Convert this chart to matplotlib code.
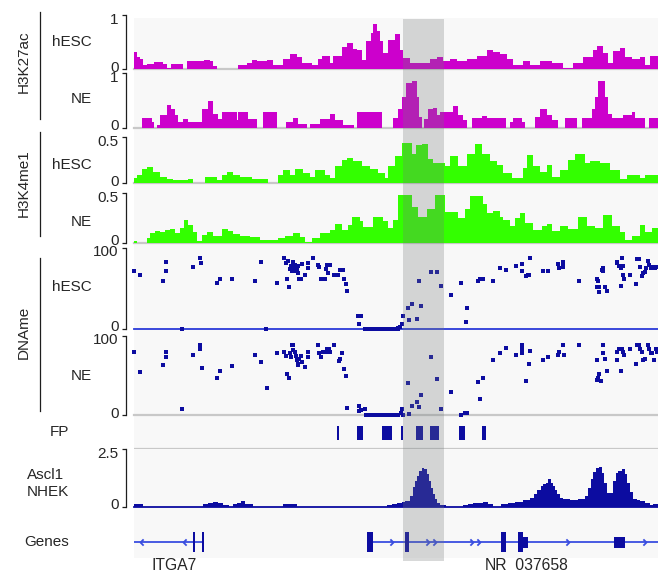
import matplotlib
matplotlib.use("Agg")
import matplotlib.pyplot as plt
from matplotlib.lines import Line2D
from matplotlib.patches import Rectangle
from matplotlib.path import Path

plt.rcParams['font.family'] = ['Liberation Sans', 'DejaVu Sans']
plt.rcParams['path.simplify'] = False

W, H = 658, 572
REGION_END = 524          # browser window, in units of 100 bp

# ---------------- bedGraph-style signal tracks (interval start, value) ----------------
k27_hesc_start = [0, 3, 6, 9, 13, 20, 29, 33, 37, 49, 53, 70, 76, 79, 83, 104, 113, 118, 123, 133,
                  139, 149, 156, 163, 168, 178, 184, 188,
                  196, 199, 208, 213, 219, 223, 228, 232, 237, 239, 243, 246, 249, 254, 261, 266, 269, 276, 296, 303,
                  309, 316, 323, 333, 343, 353, 359, 366, 373, 379, 389, 396, 406, 418, 429, 439, 449, 459, 463, 469,
                  474, 479, 486, 491, 498, 506, 511, 516]
k27_hesc_value = [0.31, 0.22, 0.19, 0.08, 0.09, 0.13, 0.09, 0.02, 0.10, 0, 0.15, 0.17, 0.15, 0.06, 0, 0.08, 0.11, 0.17, 0.14, 0.17,
                  0.08, 0.19, 0.28, 0.22, 0.12, 0.08, 0.19, 0.25,
                  0.11, 0.25, 0.40, 0.49, 0.37, 0.36, 0.17, 0.51, 0.67, 0.84, 0.70, 0.51, 0.30, 0.53, 0.65, 0.36, 0.20, 0.12, 0.19, 0.23,
                  0.14, 0.19, 0.14, 0.19, 0.25, 0.36, 0.31, 0.27, 0.19, 0.08, 0.14, 0.08, 0.14, 0.11, 0.02, 0.11, 0.23, 0.36, 0.42, 0.30,
                  0.11, 0.33, 0.39, 0.23, 0.19, 0.23, 0.08, 0.25]

k27_ne_start = [0, 8, 18, 20, 23, 26, 33, 37, 41, 44, 49, 54, 68, 74, 79, 84, 88, 96, 103, 104,
                114, 123, 129, 143, 152, 159, 164, 173, 176, 186,
                196, 201, 209, 220, 223, 248, 259, 264, 268, 272, 278, 283, 285, 288, 290, 294, 299, 303, 306, 319,
                324, 329, 333, 338, 348, 353, 372, 376, 379, 388, 391, 401, 406, 413, 418, 424, 431, 443, 448, 458,
                461, 464, 471, 474, 478, 489, 498, 501, 511, 515]
k27_ne_value = [0, 0.19, 0.11, 0, 0.05, 0.23, 0.41, 0.35, 0.23, 0.11, 0.17, 0.11, 0.35, 0.50, 0.26, 0.17, 0.29, 0.30, 0.14, 0.29,
                0.17, 0, 0.29, 0, 0.11, 0.19, 0.07, 0, 0.08, 0.17,
                0.26, 0.14, 0.05, 0, 0.29, 0, 0.19, 0.35, 0.57, 0.82, 0.85, 0.57, 0.20, 0, 0.17, 0.35, 0.37, 0.23, 0.29, 0.40,
                0.23, 0.14, 0, 0.19, 0.21, 0.19, 0, 0.11, 0.19, 0.11, 0, 0.20, 0.35, 0.23, 0.14, 0, 0.19, 0, 0.19, 0.35,
                0.57, 0.85, 0.57, 0.26, 0.19, 0.23, 0.29, 0.19, 0, 0.19]

k4_hesc_start = [0, 3, 8, 13, 19, 26, 33, 39, 54, 59, 71, 83, 88, 93, 99, 106, 118, 126, 134, 144,
                 149, 156, 161, 169, 176, 181, 191,
                 196, 201, 208, 213, 219, 228, 236, 244, 251, 254, 261, 268, 278, 282, 288, 294, 299, 311, 316, 324,
                 333, 341, 348, 356, 363, 369, 378, 389, 393, 399, 406, 413, 418, 426, 434, 441, 451, 456, 466, 476,
                 486, 493, 506, 511]
k4_hesc_value = [0.05, 0.09, 0.15, 0.17, 0.12, 0.07, 0.04, 0.03, 0.04, 0, 0.07, 0.03, 0.09, 0.12, 0.09, 0.07, 0.04, 0.04, 0, 0.09,
                 0.14, 0.09, 0.15, 0.11, 0.07, 0.14, 0.09,
                 0.05, 0.18, 0.25, 0.27, 0.24, 0.19, 0.15, 0.11, 0.05, 0.18, 0.29, 0.44, 0.31, 0.41, 0.42, 0.26, 0.22, 0.18, 0.29, 0.18,
                 0.32, 0.42, 0.31, 0.24, 0.20, 0.11, 0.05, 0.16, 0.30, 0.18, 0.12, 0.20, 0.07, 0.14, 0.25, 0.32, 0.22, 0.24, 0.22, 0.14,
                 0.04, 0.09, 0.05, 0.09]

k4_ne_start = [0, 3, 13, 16, 21, 26, 31, 36, 41, 46, 50, 54, 59, 63, 68, 73, 79, 88, 94, 99,
               106, 116, 126, 138, 144, 151, 159, 166, 171, 178, 186,
               196, 201, 208, 214, 218, 226, 229, 239, 249, 254, 259, 264, 278, 284, 293, 301, 311, 324, 331, 336,
               349, 353, 359, 366, 369, 376, 381, 386, 391, 399, 408, 413, 418, 426, 434, 444, 453, 461, 469, 478,
               486, 491, 498, 506, 511, 518]
k4_ne_value = [0.02, 0, 0.045, 0.10, 0.12, 0.11, 0.13, 0.14, 0.10, 0.15, 0.23, 0.18, 0.11, 0.02, 0.08, 0.11, 0.07, 0.14, 0.12, 0.09,
               0.07, 0.06, 0.03, 0.03, 0.045, 0.07, 0.10, 0.06, 0.01, 0.045, 0.10,
               0.13, 0.19, 0.13, 0.18, 0.26, 0.22, 0.16, 0.26, 0.22, 0.15, 0.23, 0.48, 0.36, 0.26, 0.34, 0.48, 0.31, 0.25, 0.34, 0.47,
               0.39, 0.30, 0.32, 0.26, 0.23, 0.17, 0.25, 0.30, 0.20, 0.13, 0.17, 0.19, 0.12, 0.17, 0.14, 0.26, 0.17, 0.15, 0.28, 0.17,
               0.11, 0.03, 0.07, 0.18, 0.11, 0.15]

ascl1_start = [0, 9, 69, 74, 79, 84, 89, 95, 99, 103, 107, 111, 119, 149, 163,
               253, 258, 263, 268, 271, 276, 279, 281, 283, 285, 288, 290, 293, 295, 297, 299, 301, 303, 306, 312,
               329, 334, 339, 344, 349, 354, 359, 367, 374, 381, 389, 396, 400, 403, 407, 409, 412, 414, 417, 419,
               421, 423, 426, 429, 436, 444, 451, 454, 457, 459, 462, 465, 468, 470, 473, 479, 482, 484, 488, 491,
               493, 496, 499, 503, 506, 511, 516, 519]
ascl1_value = [0.10, 0, 0.10, 0.17, 0.22, 0.17, 0.09, 0, 0.12, 0.17, 0.23, 0.13, 0, 0.12, 0,
               0.07, 0.10, 0.15, 0.20, 0.25, 0.47, 0.87, 1.12, 1.34, 1.56, 1.70, 1.66, 1.41, 1.12, 0.83, 0.54, 0.32, 0.15, 0.06, 0,
               0.09, 0.12, 0.15, 0.17, 0.22, 0.12, 0, 0.10, 0.15, 0.20, 0.29, 0.39, 0.54, 0.73, 0.90, 0.97, 1.05, 1.19, 1.05, 0.90,
               0.73, 0.54, 0.39, 0.32, 0.29, 0.32, 0.47, 0.83, 1.19, 1.51, 1.70, 1.74, 1.48, 1.05, 0.58, 1.12, 1.45, 1.56, 1.63, 1.41,
               1.05, 0.64, 0.35, 0.29, 0.23, 0.15, 0.06, 0.10]

# ---------------- CpG methylation (position, % methylated) ----------------
dname_hesc_pos = [0.3, 6, 28.7, 31.7, 31.7, 47.7, 58.7, 66, 66.7, 83.3, 86, 97.7, 121, 127, 132, 142.7, 150.3,
                  151.7, 154.3, 156, 157, 158.3, 159.3, 160.3, 161, 161.7, 162.7, 163.7, 164.3, 165.3, 166.7, 167.7,
                  155.3, 153.3, 171, 174.3, 174.3, 178.7, 184.3, 185.3, 186.7, 188.7, 191, 192, 192.7, 193.7, 195.3,
                  196, 200, 204.3, 206, 208.7, 210, 212, 213.3, 224.3, 226.7, 225.3,
                  231, 232.5, 234, 236, 238, 240, 242, 244, 246, 248, 250, 252, 254, 256, 258, 260, 262, 263.5,
                  264.3, 266, 267.7, 269.3, 273.7, 275.3, 278, 282.7, 285.3, 287, 296.7, 302.7, 307, 317, 327,
                  331.7, 332.7, 344.3, 346, 348.7, 358.7, 366, 371.7, 382, 387.7, 388.3, 391.7, 393.7, 395.3, 396.3,
                  409.3, 413.7, 423.7, 425.3, 428.7, 429.3, 429.3, 445.3, 462.7, 463.7, 462.7, 465.3, 465.3, 467.7,
                  469.3, 468.7, 471, 472.7, 482.7, 483.3, 485.3, 486.7, 488.3, 489.3, 489.3, 490.3, 487.3, 496,
                  501.7, 503.3, 504.7, 506, 507.7, 509.3, 511, 512, 514.3, 515.3, 516.7, 518.7, 521, 522]
dname_hesc_pct = [72, 66, 59, 82, 72, 0, 77, 87, 81, 57, 61, 62, 59, 82, 0, 57, 87,
                  81, 84, 74, 78, 72, 83, 75, 79, 71, 74, 78, 69, 62, 62, 80,
                  52, 62, 67, 81, 75, 87, 79, 77, 62, 62, 62, 74, 79, 69, 79,
                  79, 66, 66, 73, 73, 62, 55, 46, 16, 16, 6,
                  0, 0, 0, 0, 0, 0, 0, 0, 0, 0, 0, 0, 0, 0, 0, 0, 0, 0,
                  1, 2, 6, 16, 26, 10, 30, 12, 59, 28, 70, 70, 53, 41, 56,
                  8, 25, 59, 61, 62, 59, 75, 73, 78, 80, 71, 65, 66, 66, 87,
                  72, 72, 80, 75, 82, 80, 76, 59, 62, 59, 52, 52, 45, 73,
                  75, 71, 52, 47, 82, 81, 78, 75, 87, 78, 67, 62, 53, 67,
                  55, 86, 86, 77, 65, 69, 70, 75, 84, 79, 75, 76, 75, 77]

dname_ne_pos = [0.3, 6, 28.7, 31.7, 31.7, 47.7, 58.7, 66, 66, 67.7, 83.3, 86, 97.7, 121, 127, 132.7, 142.7, 150.3,
                153.3, 155.3, 151.7, 157.7, 159.3, 158.7, 156, 156.7, 161, 162, 162.7, 163.7, 165.3, 167, 167.7,
                164.3, 171, 174.3, 174.3, 184.3, 185.3, 186.7, 188.7, 191, 192.7, 194.3, 195.3,
                196, 200, 206, 207.7, 205.3, 210, 212, 213.3, 225.3, 224.7, 226.7, 230.7,
                232, 234, 236, 238, 240, 242, 244, 246, 248, 250, 252, 254, 256, 258, 260, 262, 264,
                266.7, 267.7, 269.3, 273.7, 275.3, 278, 282.7, 285.3, 287, 296.7, 302.7, 307, 317, 327,
                331, 332.7, 344.3, 346, 348.7, 358.7, 366, 371.7, 382, 387.7, 387.7, 388.3, 392, 395, 396.3,
                409.3, 413.7, 423.7, 425.3, 429.3, 430.3, 445.3, 462.7, 462.7, 464.3, 465.3, 466.7, 468.7,
                468.7, 471, 472.7, 482.7, 483.3, 485.3, 487.7, 488.7, 487, 490, 496, 501.7, 503.3, 504.7,
                506, 507.7, 509.3, 511, 514.3, 515.3, 516.7, 517.7, 520, 522, 523.3]
dname_ne_pct = [80, 55, 63, 80, 73, 7, 76, 89, 83, 60, 47, 56, 62, 76, 67, 34, 78, 80,
                52, 47, 75, 88, 89, 82, 78, 73, 80, 75, 69, 65, 71, 75, 67,
                63, 61, 80, 73, 89, 79, 73, 80, 80, 83, 80, 83,
                80, 89, 71, 78, 68, 58, 50, 9, 12, 5, 6, 7,
                0, 0, 0, 0, 0, 0, 0, 0, 0, 0, 0, 0, 0, 0, 0, 0, 0,
                2, 7, 0, 40, 1, 12, 17, 10, 25, 74, 45, 7, 29, 0,
                3, 3, 42, 20, 47, 70, 78, 85, 76, 89, 83, 78, 43, 65, 81,
                70, 74, 76, 80, 89, 76, 89, 70, 44, 47, 52, 43, 89,
                78, 71, 56, 69, 80, 83, 83, 80, 56, 76, 83, 64, 89, 88,
                83, 80, 69, 71, 89, 84, 78, 78, 70, 83, 80]

# ---------------- footprints (start, end) ----------------
fp_start = [203, 223, 248, 267, 282, 296, 325, 348]
fp_end = [205, 229, 258, 269, 289, 305, 331, 352]

# ---------------- gene models ----------------
gene_names = ['ITGA7', 'NR_037658']
gene_span = [(0, 70), (233, 530)]
gene_label_pos = [40, 393]
gene_strand = ['-', '+']
gene_exons = [[(59, 61), (68, 70)],
              [(233, 239), (271, 275), (367, 372), (384, 389)]]
gene_utrs = [[], [(389, 394), (480, 491)]]
gene_arrows = [[6, 49], [259, 295, 302, 339, 346, 435, 512]]

highlight = (269, 310)

# ---------------- colours ----------------
MAGENTA = '#cc00cc'
GREEN = '#33ff00'
NAVY = '#0c0ca0'
LINE_BLUE = '#3a4ee0'
SEP = '#c8c8c8'
TXT = '#262626'


def px_axes(fig, x0, y_top, x1, y_bot, **kw):
    return fig.add_axes([x0 / W, 1 - y_bot / H, (x1 - x0) / W, (y_bot - y_top) / H], **kw)


def style_track(ax, top, labels):
    ax.set_xlim(0, REGION_END)
    ax.set_ylim(0, top)
    ax.patch.set_visible(False)
    for s in ('top', 'right', 'bottom'):
        ax.spines[s].set_visible(False)
    ax.spines['left'].set_position(('outward', 5.8))
    ax.spines['left'].set_bounds(0, top)
    ax.spines['left'].set_color('#1e1e1e')
    ax.spines['left'].set_linewidth(0.9)
    ax.set_xticks([])
    ax.set_yticks([0, top], ['', ''])
    ax.tick_params(axis='y', length=3, width=0.9, color='#1e1e1e')
    # scale labels: lower one sits on its tick, upper one hangs below its tick
    for val, lab, drop in ((0, labels[0], 2.5), (top, labels[1], 8.5)):
        ax.annotate(lab, xy=(0, val), xycoords=ax.get_yaxis_transform(),
                    xytext=(-15.5, -drop), textcoords='offset pixels',
                    ha='right', va='baseline', fontsize=11, color=TXT,
                    annotation_clip=False)


def blank_track(ax, ylim):
    ax.set_xlim(0, REGION_END)
    ax.set_ylim(*ylim)
    ax.axis('off')


def step_fill(ax, starts, values, color):
    """Draw a bedGraph as one closed step polygon (aliased, so bins tile cleanly)."""
    ends = list(starts[1:]) + [REGION_END]
    xs, ys = [starts[0]], [0]
    for s, e, v in zip(starts, ends, values):
        xs += [s, e]
        ys += [v, v]
    xs.append(REGION_END)
    ys.append(0)
    ax.fill(xs, ys, facecolor=color, lw=0, antialiased=False, zorder=2)


fig = plt.figure(figsize=(W / 100, H / 100), dpi=100)

# panel background
bg = px_axes(fig, 134, 18, 658, 558)
bg.set_facecolor('#f8f8f8')
bg.set_xticks([]); bg.set_yticks([])
for s in bg.spines.values():
    s.set_visible(False)

# histone marks
for (ytop, ybot, starts, vals, col, top, labs) in [
        (15, 69, k27_hesc_start, k27_hesc_value, MAGENTA, 1, ['0', '1']),
        (73, 128, k27_ne_start, k27_ne_value, MAGENTA, 1, ['0', '1']),
        (137, 183, k4_hesc_start, k4_hesc_value, GREEN, 0.5, ['0', '0.5']),
        (193, 242.5, k4_ne_start, k4_ne_value, GREEN, 0.5, ['0', '0.5'])]:
    ax = px_axes(fig, 134, ytop, 658, ybot)
    style_track(ax, top, labs)
    ax.axhline(0, color=SEP, lw=1.6, zorder=1, clip_on=False)
    step_fill(ax, starts, vals, col)

# DNA methylation
ax = px_axes(fig, 134, 248, 658, 328.5)
style_track(ax, 100, ['0', '100'])
ax.axhline(0, color='#2a3ad8', lw=1.3, zorder=1, clip_on=False)
ax.plot(dname_hesc_pos, dname_hesc_pct, ls='none', marker='s', ms=2.3, mew=0,
        color=NAVY, zorder=3, clip_on=False)

ax = px_axes(fig, 134, 336, 658, 415)
style_track(ax, 100, ['0', '100'])
ax.axhline(0, color=SEP, lw=1.6, zorder=1, clip_on=False)
ax.plot(dname_ne_pos, dname_ne_pct, ls='none', marker='s', ms=2.3, mew=0,
        color=NAVY, zorder=3, clip_on=False)

# footprints
ax = px_axes(fig, 134, 417, 658, 449)
blank_track(ax, (449, 417))
for s, e in zip(fp_start, fp_end):
    ax.add_patch(Rectangle((s, 425.5), e - s, 14.5, color=NAVY, lw=0))
ax.axhline(449, color=SEP, lw=1.6)

# Ascl1 ChIP
ax = px_axes(fig, 134, 449.3, 658, 506.7)
style_track(ax, 2.5, ['0', '2.5'])
step_fill(ax, ascl1_start, ascl1_value, NAVY)
ax.axhline(0, color=NAVY, lw=1.3, zorder=3, clip_on=False)

# genes
ax = px_axes(fig, 134, 522, 658, 562)
blank_track(ax, (-20, 20))
chevron_r = Path([(-1, 1), (0, 0), (-1, -1)], [Path.MOVETO, Path.LINETO, Path.LINETO])
chevron_l = Path([(1, 1), (0, 0), (1, -1)], [Path.MOVETO, Path.LINETO, Path.LINETO])
for name, (s, e), lx, strand, exons, utrs, arrows in zip(
        gene_names, gene_span, gene_label_pos, gene_strand, gene_exons, gene_utrs, gene_arrows):
    ax.plot([s, min(e, REGION_END)], [0, 0], color=LINE_BLUE, lw=1.3, zorder=1, solid_capstyle='butt')
    mk = chevron_r if strand == '+' else chevron_l
    ax.plot(arrows, [0] * len(arrows), ls='none', marker=mk, ms=4.5, mew=1.3,
            color=LINE_BLUE, fillstyle='none', zorder=2)
    for a, b in exons:
        ax.add_patch(Rectangle((a, -10), b - a, 20, color=NAVY, lw=0, zorder=3))
    for a, b in utrs:
        ax.add_patch(Rectangle((a, -5.5), b - a, 11, color=NAVY, lw=0, zorder=3))
    ax.text(lx, -28, name, ha='center', va='baseline', fontsize=11.3, color=TXT, clip_on=False)

# highlighted window
ov = px_axes(fig, 134, 19, 658, 560.5)
blank_track(ov, (0, 1))
ov.axvspan(*highlight, color='#737979', alpha=0.28, lw=0)

# row labels
def ftext(x, y, s, **kw):
    fig.text(x / W, 1 - y / H, s, fontsize=11, color=TXT, **kw)

for y, s in [(42, 'hESC'), (99, 'NE'), (165, 'hESC'), (222, 'NE'), (287, 'hESC'), (376, 'NE')]:
    ftext(91.5, y, s, ha='right', va='center')
ftext(69, 432, 'FP', ha='right', va='center')
ftext(69, 483.5, 'Ascl1\nNHEK', ha='right', va='center', multialignment='left', linespacing=1.25)
ftext(69, 542, 'Genes', ha='right', va='center')

# assay group labels with brackets
for y0, y1, ymid, s in [(12, 119, 62, 'H3K27ac'), (132, 236, 183, 'H3K4me1'), (258, 411, 332, 'DNAme')]:
    fig.add_artist(Line2D([40 / W, 40 / W], [1 - y0 / H, 1 - y1 / H], color='#1e1e1e', lw=0.9))
    ftext(23.5, ymid, s, ha='center', va='center', rotation=90)

fig.savefig('out.png', dpi=100)
